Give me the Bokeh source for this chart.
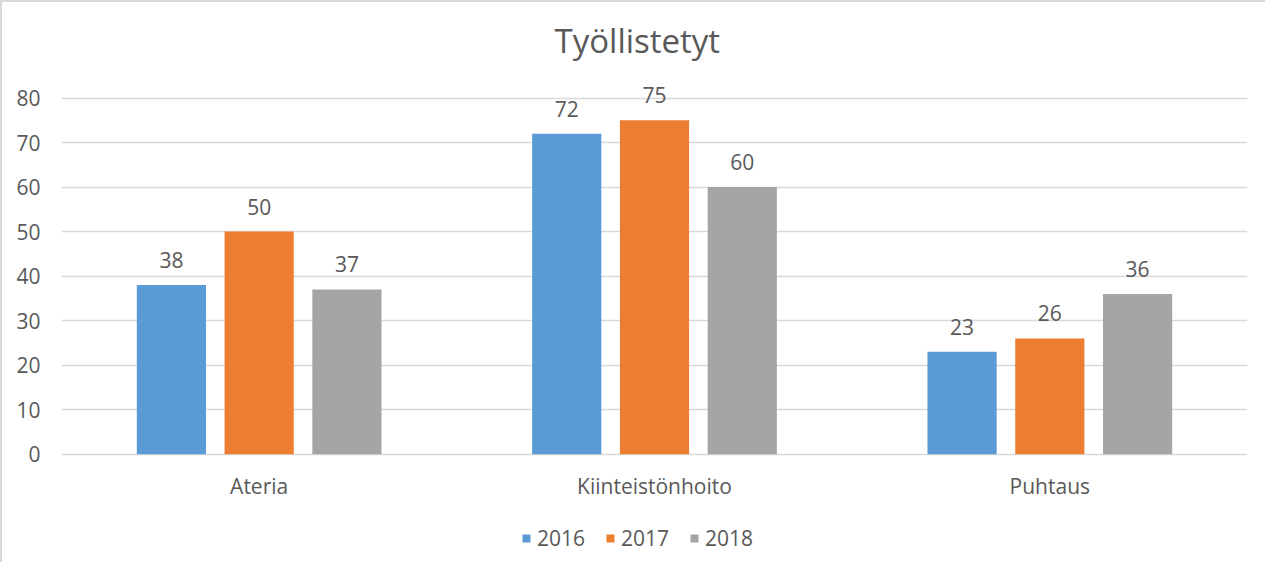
from bokeh.plotting import figure
from bokeh.models import ColumnDataSource, FactorRange, Range1d, FixedTicker, LabelSet, Legend
from bokeh.transform import dodge
from bokeh.core.properties import value
from bokeh.embed import file_html
from bokeh.resources import INLINE

categories = ["Ateria", "Kiinteistönhoito", "Puhtaus"]
series_names = ["2016", "2017", "2018"]
v2016 = [38, 72, 23]
v2017 = [50, 75, 26]
v2018 = [37, 60, 36]
y_ticks = [0, 10, 20, 30, 40, 50, 60, 70, 80]

colors = ["#5B9BD5", "#ED7D31", "#A5A5A5"]
offsets = [-0.222, 0.0, 0.222]
FONT = "Open Sans"
TXT = "#595959"
FS = "21px"

src = ColumnDataSource(dict(
    cat=categories,
    v2016=v2016, v2017=v2017, v2018=v2018,
    t2016=[str(v) for v in v2016],
    t2017=[str(v) for v in v2017],
    t2018=[str(v) for v in v2018],
))

p = figure(
    x_range=FactorRange(*categories, range_padding=0),
    y_range=Range1d(-24.8, 88),
    width=1265, height=562,
    output_backend="svg", toolbar_location=None,
    title="Työllistetyt",
    min_border_left=59, min_border_right=20, min_border_top=60, min_border_bottom=0,
)
p.styles = {"border-left": "2px solid #D9D9D9", "border-top": "2px solid #D9D9D9"}
p.outline_line_color = None

p.title.align = "left"
p.title.offset = 493
p.title.text_font = FONT
p.title.text_font_size = "33px"
p.title.text_font_style = "normal"
p.title.text_color = TXT
p.title.standoff = 0

items = []
for name, col, off in zip(series_names, colors, offsets):
    r = p.vbar(x=dodge("cat", off, range=p.x_range), top="v" + name, width=0.175,
               source=src, fill_color=col, line_color=None)
    items.append((name, [r]))
    lbl = LabelSet(x=dodge("cat", off, range=p.x_range), y="v" + name, text="t" + name,
                   source=src, text_align="center", text_baseline="middle",
                   y_offset=25, text_font=value(FONT), text_font_size=FS,
                   text_color=TXT)
    p.add_layout(lbl)

p.xgrid.visible = False
p.ygrid.ticker = FixedTicker(ticks=y_ticks)
p.ygrid.grid_line_color = "#D9D9D9"
p.ygrid.grid_line_width = 1.5

p.yaxis.ticker = FixedTicker(ticks=y_ticks)
for ax in (p.xaxis, p.yaxis):
    ax.axis_line_color = None
    ax.major_tick_line_color = None
    ax.minor_tick_line_color = None
    ax.major_tick_out = 0
    ax.major_tick_in = 0
    ax.major_label_text_font = FONT
    ax.major_label_text_font_size = FS
    ax.major_label_text_color = TXT
p.yaxis.major_label_standoff = 21
p.xaxis.fixed_location = 0
p.xaxis.major_label_standoff = 18

legend = Legend(items=items, orientation="horizontal", location=(460, 12),
                glyph_width=10, glyph_height=10, label_standoff=6, spacing=20,
                padding=4, margin=0,
                label_text_font=FONT, label_text_font_size=FS, label_text_color=TXT,
                border_line_color=None, background_fill_alpha=0)
p.add_layout(legend, "center")

open("out.html", "w").write(file_html(p, INLINE))
